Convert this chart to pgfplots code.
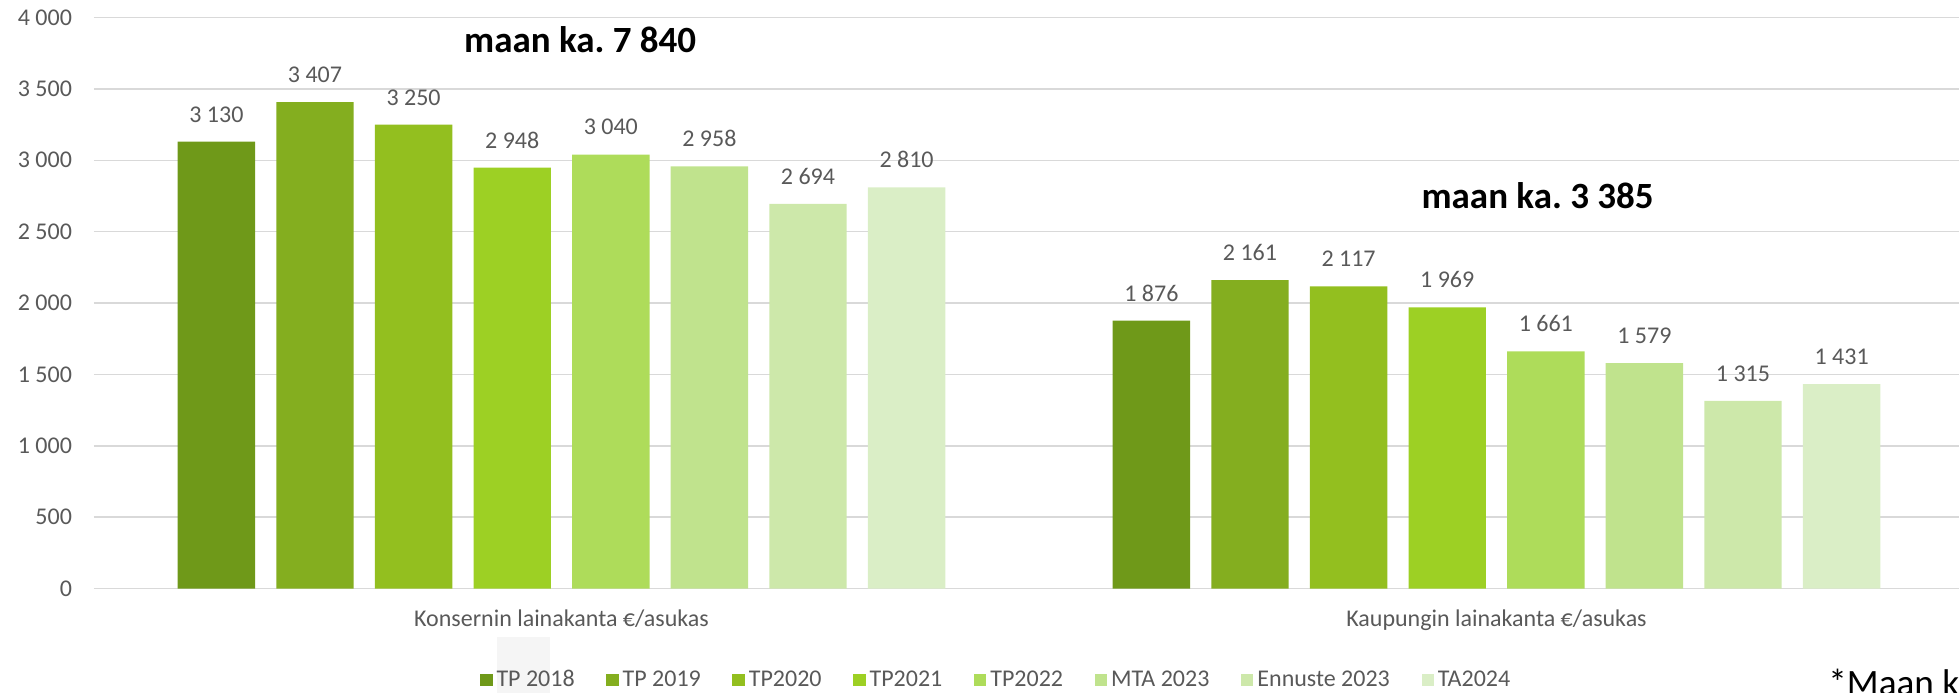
\documentclass[border=0pt]{standalone}
\usepackage{pgfplots}
\pgfplotsset{compat=1.18}
\usepackage{fontspec}
\setmainfont{Carlito}
\frenchspacing
\definecolor{c1}{HTML}{6F9919}
\definecolor{c2}{HTML}{84AE1F}
\definecolor{c3}{HTML}{93BF1F}
\definecolor{c4}{HTML}{9DD024}
\definecolor{c5}{HTML}{AEDC5A}
\definecolor{c6}{HTML}{C0E38D}
\definecolor{c7}{HTML}{CDE8AA}
\definecolor{c8}{HTML}{DAEEC6}
\definecolor{txt}{HTML}{595959}
\definecolor{gridc}{HTML}{D9D9D9}
\begin{document}
\begin{tikzpicture}
\useasboundingbox (-47pt,-51.75pt) rectangle (932.5pt,294.25pt);
\fill[black!4] (201.5pt,-24.25pt) rectangle (228pt,-52pt);
\begin{axis}[
  at={(0,0)}, anchor=south west, scale only axis,
  width=935pt, height=285.5pt,
  xmin=-0.5, xmax=1.5, ymin=0, ymax=4000,
  xtick={0,1},
  xticklabels={Konsernin lainakanta €/asukas, Kaupungin lainakanta €/asukas},
  ytick distance=500,
  ymajorgrids, grid style={draw=gridc, line width=0.75pt},
  axis line style={draw=none},
  major tick length=0pt,
  ybar=10.6pt, bar width=38.7pt,
  legend image code/.code={\fill[#1,draw=none] (0pt,-3.2pt) rectangle (6.2pt,3.2pt);},
  tick label style={font=\fontsize{12}{14}\selectfont, text=txt},
  xticklabel style={yshift=-7pt},
  yticklabel style={xshift=-7.5pt},
  /pgf/number format/assume math mode=true,
  /pgf/number format/1000 sep={\ },
  nodes near coords,
  nodes near coords style={font=\fontsize{12}{14}\selectfont, text=txt, inner sep=0pt, anchor=south, yshift=9.5pt},
  legend style={draw=none, fill=none, at={(0.483,-0.1602)}, anchor=center,
    font=\fontsize{12}{14}\selectfont, text=txt,
    /tikz/every even column/.append style={column sep=13.8pt}},
  legend columns=8,
]
\addplot[fill=c1, draw=none] coordinates {(0,3130) (1,1876)};
\addplot[fill=c2, draw=none] coordinates {(0,3407) (1,2161)};
\addplot[fill=c3, draw=none] coordinates {(0,3250) (1,2117)};
\addplot[fill=c4, draw=none] coordinates {(0,2948) (1,1969)};
\addplot[fill=c5, draw=none] coordinates {(0,3040) (1,1661)};
\addplot[fill=c6, draw=none] coordinates {(0,2958) (1,1579)};
\addplot[fill=c7, draw=none] coordinates {(0,2694) (1,1315)};
\addplot[fill=c8, draw=none] coordinates {(0,2810) (1,1431)};
\legend{TP 2018, TP 2019, TP2020, TP2021, TP2022, MTA 2023, Ennuste 2023, TA2024}
\node[font=\bfseries\fontsize{18.5}{20}\selectfont, text=black] at (axis cs:0.02,3844) {maan ka.\ 7 840};
\node[font=\bfseries\fontsize{18.5}{20}\selectfont, text=black] at (axis cs:1.044,2750) {maan ka.\ 3 385};
\end{axis}
\node[anchor=base west, font=\fontsize{18.6}{20}\selectfont, text=black, inner sep=0pt] at (867pt,-53.5pt) {*Maan ka.};
\end{tikzpicture}
\end{document}
